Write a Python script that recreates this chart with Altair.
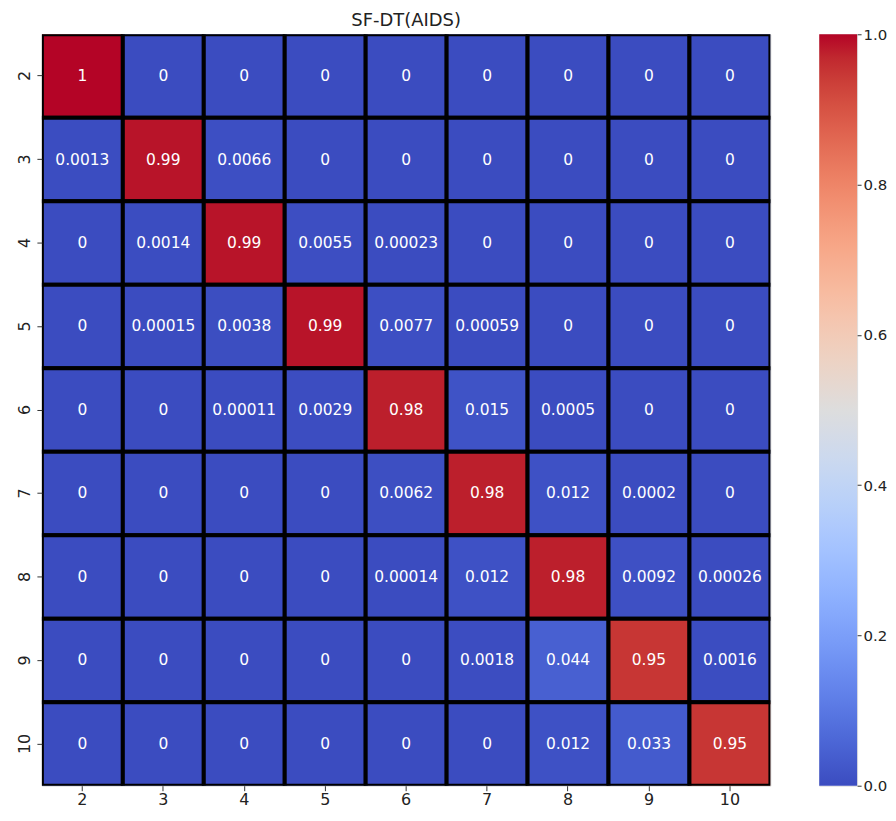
import altair as alt
import pandas as pd

labels = ["2", "3", "4", "5", "6", "7", "8", "9", "10"]

row_2 = [1, 0, 0, 0, 0, 0, 0, 0, 0]
row_3 = [0.0013, 0.99, 0.0066, 0, 0, 0, 0, 0, 0]
row_4 = [0, 0.0014, 0.99, 0.0055, 0.00023, 0, 0, 0, 0]
row_5 = [0, 0.00015, 0.0038, 0.99, 0.0077, 0.00059, 0, 0, 0]
row_6 = [0, 0, 0.00011, 0.0029, 0.98, 0.015, 0.0005, 0, 0]
row_7 = [0, 0, 0, 0, 0.0062, 0.98, 0.012, 0.0002, 0]
row_8 = [0, 0, 0, 0, 0.00014, 0.012, 0.98, 0.0092, 0.00026]
row_9 = [0, 0, 0, 0, 0, 0.0018, 0.044, 0.95, 0.0016]
row_10 = [0, 0, 0, 0, 0, 0, 0.012, 0.033, 0.95]
rows = [row_2, row_3, row_4, row_5, row_6, row_7, row_8, row_9, row_10]

cbar_ticks = [0.0, 0.2, 0.4, 0.6, 0.8, 1.0]

coolwarm = [
    "#3b4cc0", "#445acc", "#4d68d7", "#5775e1", "#6282ea", "#6c8ef1", "#779af7", "#82a5fb",
    "#8db0fe", "#98b9ff", "#a3c2ff", "#aec9fd", "#b8d0f9", "#c2d5f4", "#ccd9ee", "#d5dbe6",
    "#dddddd", "#e5d8d1", "#ecd3c5", "#f1ccb9", "#f5c4ad", "#f7bba0", "#f7b194", "#f7a687",
    "#f49a7b", "#f18d6f", "#ec7f63", "#e57058", "#de604d", "#d55042", "#cb3e38", "#c0282f",
    "#b40426",
]

records = []
for i, r in enumerate(labels):
    for j, c in enumerate(labels):
        records.append({"true": r, "pred": c, "v": rows[i][j]})
df = pd.DataFrame(records)

FONT = "DejaVu Sans"
TXT = "#222222"

band = alt.Scale(paddingInner=0, paddingOuter=0)

base = alt.Chart(df).encode(
    x=alt.X("pred:O", sort=labels, title=None, scale=band,
            axis=alt.Axis(labelAngle=0, domain=False, tickSize=5, tickColor="#333333",
                          labelFontSize=16, labelFont=FONT, labelColor=TXT, labelPadding=1)),
    y=alt.Y("true:O", sort=labels, title=None, scale=band,
            axis=alt.Axis(labelAngle=270, domain=False, tickSize=5, tickColor="#333333",
                          labelFontSize=16, labelFont=FONT, labelColor=TXT, labelPadding=4)),
)

rects = base.mark_rect(stroke="black", strokeWidth=4, clip=True).encode(
    color=alt.Color("v:Q", scale=alt.Scale(domain=[0, 1], range=coolwarm), legend=None)
)

texts = base.mark_text(color="white", fontSize=15.5, font=FONT).encode(
    text=alt.Text("v:Q", format=".2~g")
)

heat = alt.layer(rects, texts).properties(
    width=731, height=754,
    title=alt.Title("SF-DT(AIDS)", fontSize=18, font=FONT, fontWeight="normal",
                    color=TXT, offset=4),
)

cb_df = pd.DataFrame({"lo": [cbar_ticks[0]], "hi": [cbar_ticks[-1]]})
grad = alt.LinearGradient(
    gradient="linear",
    stops=[alt.GradientStop(offset=i / (len(coolwarm) - 1), color=c) for i, c in enumerate(coolwarm)],
    x1=0, x2=0, y1=1, y2=0,
)
cbar = alt.Chart(cb_df).mark_rect(color=grad).encode(
    y=alt.Y("lo:Q", scale=alt.Scale(domain=[0, 1], nice=False, zero=False), title=None,
            axis=alt.Axis(orient="right", values=cbar_ticks, format=".1f", domain=False, grid=False,
                          tickSize=4, tickColor="#333333", labelFontSize=15, labelFont=FONT,
                          labelColor=TXT, labelPadding=2)),
    y2="hi:Q",
    x=alt.value(0), x2=alt.value(38),
).properties(width=38, height=754)

chart = alt.hconcat(heat, cbar, spacing=47).properties(
    padding={"left": 8, "top": 2, "right": 0, "bottom": 0}
).configure_view(stroke=None).configure(font=FONT)

chart.save("out.html", embed_options={"renderer": "svg", "actions": False})
